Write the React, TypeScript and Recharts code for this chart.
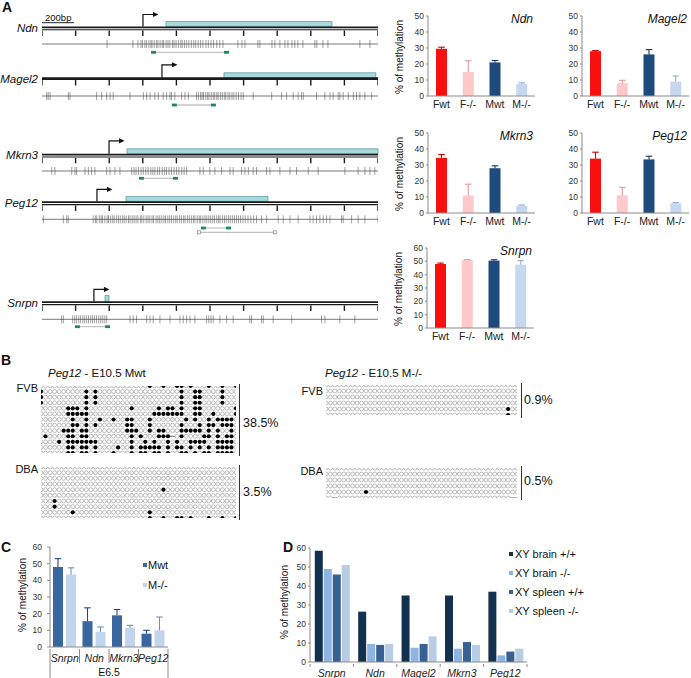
import React from "react";
import {
  BarChart,
  Bar,
  XAxis,
  YAxis,
  ScatterChart,
  Scatter,
  ReferenceLine,
  ReferenceArea,
} from "recharts";

const FONT = '"Liberation Sans", Arial, Helvetica, sans-serif';
const AXIS = "#8a8a8a";

// ---------- Panel A: bar charts ----------
const genotypes = ["Fwt", "F-/-", "Mwt", "M-/-"];
const genotypeColors = ["#fa0f0f", "#ffc9c9", "#1f4a7d", "#c5d8f0"];
const genotypeErrColors = ["#c40000", "#e79a9a", "#16365c", "#94acd0"];

const ndnMeth = [29.5, 15, 21, 7.5];
const ndnErr = [1, 7, 1.2, 0.7];
const magel2Meth = [28, 8, 26, 9];
const magel2Err = [0.4, 1.8, 3, 3.5];
const mkrn3Meth = [34.5, 11, 28, 4.5];
const mkrn3Err = [2, 7, 1.5, 0.5];
const peg12Meth = [34, 11, 33.5, 6];
const peg12Err = [4, 5, 2, 0.5];
const snrpnMeth = [48, 51, 50.5, 47.5];
const snrpnErr = [0.7, 0.3, 0.7, 3];

// ---------- Panel A: gene maps (bp) ----------
const scaleTicksBp = [0, 200, 400, 600, 800, 1000, 1200, 1400, 1600, 1800, 2000];
const ndnCpG = [387, 541, 571, 589, 598, 612, 622, 636, 648, 655, 668, 681, 690, 703, 716, 724, 739, 750, 761, 777, 786, 798, 812, 826, 835, 848, 861, 874, 889, 903, 915, 930, 944, 958, 976, 990, 1006, 1021, 1040, 1058, 1077, 1166, 1190, 1208, 1285, 1297, 1369, 1386, 1416, 1446, 1464, 1488, 1505, 1523, 1553, 1624, 1636, 1672, 1702, 1892, 1952];
const magel2CpG = [28, 37, 48, 157, 167, 325, 355, 385, 405, 424, 524, 603, 623, 643, 672, 692, 722, 742, 762, 771, 791, 831, 851, 871, 920, 931, 944, 953, 961, 975, 986, 994, 1007, 1019, 1028, 1040, 1049, 1062, 1073, 1085, 1094, 1107, 1118, 1131, 1142, 1156, 1170, 1185, 1198, 1257, 1367, 1426, 1456, 1495, 1525, 1545, 1555, 1634, 1684, 1714, 1733, 1763, 1773, 1793, 1823, 1853, 1872, 1892, 1922, 1962];
const mkrn3CpG = [58, 77, 177, 196, 206, 256, 276, 295, 315, 385, 405, 434, 464, 534, 548, 560, 575, 590, 603, 618, 632, 648, 660, 672, 688, 700, 716, 730, 741, 756, 770, 786, 800, 815, 832, 846, 861, 940, 960, 999, 1029, 1069, 1119, 1138, 1188, 1208, 1228, 1257, 1277, 1337, 1357, 1416, 1476, 1515, 1585, 1644, 1803, 1882, 1922, 1952, 1981];
const peg12CpG = [8, 127, 147, 156, 305, 318, 326, 341, 352, 360, 374, 388, 396, 409, 421, 430, 444, 455, 466, 480, 489, 501, 515, 524, 537, 548, 560, 571, 585, 594, 606, 620, 631, 642, 655, 664, 679, 690, 701, 713, 726, 735, 749, 760, 771, 784, 796, 805, 819, 830, 843, 852, 866, 877, 889, 901, 910, 924, 936, 945, 958, 970, 981, 993, 1004, 1016, 1027, 1040, 1051, 1060, 1074, 1086, 1097, 1110, 1121, 1133, 1146, 1158, 1170, 1182, 1196, 1210, 1226, 1243, 1260, 1277, 1307, 1337, 1406, 1436, 1476, 1525, 1595, 1614, 1634, 1654, 1674, 1694, 1714, 1783, 1793, 1843, 1882, 1922, 2000];
const snrpnCpG = [117, 127, 183, 195, 206, 219, 230, 243, 254, 266, 277, 290, 301, 313, 325, 338, 350, 362, 374, 385, 524, 543, 563, 623, 643, 662, 702, 762, 821, 841, 861, 881, 910, 980, 993, 1006, 1019, 1059, 1099, 1138, 1237, 1247, 1307, 1317, 1376, 1486, 1664, 1684, 1773, 1862];

const geneTracks = [
  { name: "Ndn", tss: 601, island: [738, 1726], cpg: ndnCpG, amplicon: [649, 1113] },
  { name: "Magel2", tss: 714, island: [1083, 1987], cpg: magel2CpG, amplicon: [773, 1035] },
  { name: "Mkrn3", tss: 399, island: [506, 2000], cpg: mkrn3CpG, amplicon: [577, 809] },
  { name: "Peg12", tss: 327, island: [500, 1345], cpg: peg12CpG, amplicon: [946, 1125], extra: [934, 1386] },
  { name: "Snrpn", tss: 309, island: [375, 399], cpg: snrpnCpG, amplicon: [196, 405] },
];
// vertical layout of each track (px)
const trackLayout = [
  { yMain: 27.3, double: true, arrowH: 12, boxH: 5, yCpg: 44, yAmp: 52.3, yExtra: 0 },
  { yMain: 78.6, double: false, arrowH: 13, boxH: 5, yCpg: 96, yAmp: 105, yExtra: 0 },
  { yMain: 154.6, double: true, arrowH: 13, boxH: 5, yCpg: 171, yAmp: 178.3, yExtra: 0 },
  { yMain: 202.2, double: true, arrowH: 12, boxH: 5, yCpg: 219.3, yAmp: 228, yExtra: 232.3 },
  { yMain: 302.2, double: true, arrowH: 12, boxH: 6, yCpg: 319.3, yAmp: 326.7, yExtra: 0 },
];

// ---------- Panel B: bisulfite clones (1 = methylated, 0 = unmethylated, - = missing) ----------
const mwtFvb = [
  "0000 0000 0000 0000 0000 0000 1001 0011 0100 0100 1001",
  "1000 0000 0010 1000 0000 0000 0000 0001 0011 0000 1000",
  "1000 0000 0010 1000 0000 0000 0000 0001 0011 0000 1000",
  "1000 0000 0010 1000 0000 0000 0000 0001 0011 0000 1000",
  "0000 0011 1010 0000 0000 1000 0010 1101 0011 0000 0001",
  "0000 0011 1110 0000 0000 0000 0111 1111 0011 0010 0001",
  "0000 0001 0010 0100 1001 1000 1000 0000 1010 0101 1110",
  "0000 0001 1010 1000 0001 1000 1000 0001 0001 0110 1110",
  "0000 0111 0110 0000 0001 1100 1011 0001 1111 0101 0010",
  "0100 0011 0110 0000 0000 1010 0011 1-01 0000 1101 0110",
  "0000 1011 1111 1000 0000 1001 0100 1010 0111 1001 1110",
  "0000 0011 0110 1000 0100 1011 1110 1011 0101 0101 1110",
  "0000 0011 0110 1000 1000 1011 0110 1001 1010 1101 1110",
];
const mwtDba = [
  "0000 0000 0000 0000 0000 0000 0000 0000 0000 0000 0000",
  "0000 0000 0000 0000 0000 0000 0000 0000 0000 0000 0000",
  "0000 0000 0000 0000 0000 0000 0000 0000 0000 0000 0000",
  "0000 0000 0000 0000 0000 0000 0000 0000 0000 0000 0000",
  "0000 0000 0000 0000 0000 0000 0001 0000 0000 0000 0000",
  "0000 0000 0000 0000 0000 0000 0000 0000 0000 0000 0000",
  "0001 0000 0000 0000 0000 0000 0000 0000 0000 0000 0000",
  "0001 0000 0000 0000 0000 0000 0000 0000 0000 0000 0000",
  "0000 0001 0000 0000 0000 0000 1000 0000 0000 0000 0000",
  "0000 0000 0000 0000 0000 0000 1001 0011 0100 0100 1001",
];
const koFvb = [
  "0000 0000 0000 0000 0000 0000 0000 0000 0000 0000 0000",
  "0000 0000 0000 0000 0000 0000 0000 0000 0000 0000 0000",
  "0000 0000 0000 0000 0000 0000 0000 0000 0000 0000 0000",
  "0000 0000 0000 0000 0000 0000 0000 0000 0000 0000 0000",
  "0000 0000 0000 0000 0000 0000 0000 0000 0000 0000 0100",
  "0000 0000 0000 0000 0000 0000 0000 0000 0000 0000 0100",
];
const koDba = [
  "0000 0000 0000 0000 0000 0000 0000 0000 0000 0000 0000",
  "0000 0000 0000 0000 0000 0000 0000 0000 0000 0000 0000",
  "0000 0000 0000 0000 0000 0000 0000 0000 0000 0000 0000",
  "0000 0000 0000 0000 0000 0000 0000 0000 0000 0000 0000",
  "0000 0000 0100 0000 0000 0000 0000 0000 0000 0000 0000",
  "00-0 0000 0000 0000 0000 0000 0000 0000 0000 0000 00--",
];

// ---------- Panel C ----------
const e65Genes = ["Snrpn", "Ndn", "Mkrn3", "Peg12"];
const e65Mwt = [48, 15.5, 19, 8];
const e65MwtErr = [5, 8, 3.5, 2];
const e65Mko = [43.5, 9, 11.5, 10];
const e65MkoErr = [4, 3, 1.5, 8];

// ---------- Panel D ----------
const adultGenes = ["Snrpn", "Ndn", "Magel2", "Mkrn3", "Peg12"];
const brainWt = [58.5, 26.5, 35, 35, 37];
const brainKo = [49, 9.5, 7.5, 7, 3.5];
const spleenWt = [46, 9, 9.5, 10.5, 5.5];
const spleenKo = [51, 9.5, 13.5, 9, 7];
const adultSeries = ["XY brain +/+", "XY brain -/-", "XY spleen +/+", "XY spleen -/-"];
const adultColors = ["#14304f", "#8eb4e3", "#386193", "#b8cce4"];

// ---------- helpers ----------
function T({ x, y, children, size = 10, italic = false, bold = false, anchor = "start" }: any) {
  const tx = anchor === "end" ? "-100%" : anchor === "middle" ? "-50%" : "0";
  return (
    <div
      style={{
        position: "absolute",
        left: x,
        top: y,
        transform: `translate(${tx}, -50%)`,
        fontSize: size,
        lineHeight: 1,
        fontStyle: italic ? "italic" : "normal",
        fontWeight: bold ? 700 : 400,
        whiteSpace: "nowrap",
      }}
    >
      {children}
    </div>
  );
}

function VLabel({ x, y, text }: any) {
  return (
    <div
      style={{
        position: "absolute",
        left: x,
        top: y,
        transform: "translate(-50%, -50%) rotate(-90deg)",
        fontSize: 10,
        lineHeight: 1,
        whiteSpace: "nowrap",
      }}
    >
      {text}
    </div>
  );
}

const errShape = (vKey: string, eKey: string, errColor?: string) => (props: any) => {
  const { x, y, width, height } = props;
  const d = props.payload ?? props;
  const fill = d.c ?? props.fill;
  const ec = d.ec ?? errColor ?? "#333";
  const v = d[vKey];
  const e = d[eKey];
  const ePx = v > 0 ? (height * e) / v : 0;
  const cx = x + width / 2;
  return (
    <g>
      <rect x={x} y={y} width={width} height={height} fill={fill} />
      {ePx > 0.3 && (
        <g stroke={ec} strokeWidth={1.1}>
          <line x1={cx} x2={cx} y1={y} y2={y - ePx} />
          <line x1={cx - 3.3} x2={cx + 3.3} y1={y - ePx} y2={y - ePx} />
        </g>
      )}
    </g>
  );
};

function MethylBar({ left, top, width, title, values, errors, max, yLabel }: any) {
  const data = genotypes.map((g, i) => ({
    g,
    v: values[i],
    e: errors[i],
    c: genotypeColors[i],
    ec: genotypeErrColors[i],
  }));
  const ticks = max === 60 ? [0, 10, 20, 30, 40, 50, 60] : [0, 10, 20, 30, 40, 50];
  const plotRight = left + 145;
  return (
    <>
      <div style={{ position: "absolute", left, top }}>
        <BarChart
          width={width}
          height={115}
          data={data}
          margin={{ top: 16, right: width - 145, left: 0, bottom: 5 }}
          barSize={11}
        >
          <XAxis
            dataKey="g"
            height={14}
            interval={0}
            tickLine={false}
            tickSize={2}
            tickMargin={3}
            axisLine={{ stroke: AXIS }}
            tick={{ fontSize: 10.5, fill: "#222" }}
          />
          <YAxis
            width={38}
            domain={[0, max]}
            ticks={ticks}
            interval={0}
            tickSize={2}
            tickMargin={2}
            axisLine={{ stroke: AXIS }}
            tickLine={{ stroke: AXIS }}
            tick={{ fontSize: 8.5, fill: "#333" }}
          />
          <Bar dataKey="v" shape={errShape("v", "e")} isAnimationActive={false} />
        </BarChart>
      </div>
      <T x={plotRight - 2} y={top + 19} size={12} italic anchor="end">
        {title}
      </T>
      {yLabel && <VLabel x={left + 10} y={top + 57} text="% of methylation" />}
    </>
  );
}

// gene map marks
const TickMark = (double: boolean) => (p: any) => {
  const y0 = p.cy + (double ? 3.2 : 1.4);
  return <line x1={p.cx} x2={p.cx} y1={y0} y2={y0 + 5.5} stroke="#1a1a1a" strokeWidth={1.4} />;
};
const CpGMark = (p: any) => (
  <line x1={p.cx} x2={p.cx} y1={p.cy - 4} y2={p.cy + 4} stroke="#2e2e2e" strokeOpacity={0.5} strokeWidth={0.9} />
);
const TssArrow = (p: any) => {
  const h = p.payload?.h ?? 12;
  const base = p.cy - 0.8;
  const top = base - h;
  return (
    <g>
      <path d={`M${p.cx},${base} V${top} H${p.cx + 11}`} fill="none" stroke="#111" strokeWidth={1.2} />
      <path d={`M${p.cx + 10},${top - 2.6} L${p.cx + 15.5},${top} L${p.cx + 10},${top + 2.6} Z`} fill="#111" />
    </g>
  );
};
const PrimerMark = (p: any) => {
  const side = p.payload?.side ?? 1;
  const x = side > 0 ? p.cx : p.cx - 5;
  return <rect x={x} y={p.cy - 1.4} width={5} height={2.8} fill="#1c8a55" />;
};
const OpenEnd = (p: any) => (
  <rect x={p.cx - 1.5} y={p.cy - 1.5} width={3} height={3} fill="#fff" stroke="#888" strokeWidth={0.7} />
);

function GeneMaps() {
  const items: any[] = [];
  geneTracks.forEach((g, i) => {
    const L = trackLayout[i];
    items.push(
      <ReferenceArea
        key={`box${i}`}
        x1={g.island[0]}
        x2={g.island[1]}
        y1={L.yMain - 0.8 - L.boxH}
        y2={L.yMain - 0.8}
        fill="#a9d8dc"
        fillOpacity={1}
        stroke="#5f9ea3"
        strokeWidth={0.8}
        ifOverflow="visible"
      />,
      <ReferenceLine
        key={`main${i}`}
        segment={[{ x: 0, y: L.yMain }, { x: 2000, y: L.yMain }]}
        stroke="#1a1a1a"
        strokeWidth={L.double ? 1.7 : 2.8}
        ifOverflow="visible"
      />
    );
    if (L.double) {
      items.push(
        <ReferenceLine
          key={`main2${i}`}
          segment={[{ x: 0, y: L.yMain + 2.4 }, { x: 2000, y: L.yMain + 2.4 }]}
          stroke="#1a1a1a"
          strokeWidth={1.1}
          ifOverflow="visible"
        />
      );
    }
    items.push(
      <Scatter
        key={`ticks${i}`}
        data={scaleTicksBp.map((x) => ({ x, y: L.yMain }))}
        shape={TickMark(L.double)}
        isAnimationActive={false}
      />,
      <Scatter
        key={`tss${i}`}
        data={[{ x: g.tss, y: L.yMain, h: L.arrowH }]}
        shape={TssArrow}
        isAnimationActive={false}
      />,
      <ReferenceLine
        key={`cpgl${i}`}
        segment={[{ x: 0, y: L.yCpg }, { x: 2000, y: L.yCpg }]}
        stroke="#555"
        strokeWidth={0.8}
        ifOverflow="visible"
      />,
      <Scatter
        key={`cpg${i}`}
        data={g.cpg.map((x) => ({ x, y: L.yCpg }))}
        shape={CpGMark}
        isAnimationActive={false}
      />,
      <ReferenceLine
        key={`ampl${i}`}
        segment={[{ x: g.amplicon[0], y: L.yAmp }, { x: g.amplicon[1], y: L.yAmp }]}
        stroke="#c4c4c4"
        strokeWidth={1.3}
        ifOverflow="visible"
      />,
      <Scatter
        key={`amp${i}`}
        data={[
          { x: g.amplicon[0], y: L.yAmp, side: 1 },
          { x: g.amplicon[1], y: L.yAmp, side: -1 },
        ]}
        shape={PrimerMark}
        isAnimationActive={false}
      />
    );
    if (g.extra) {
      items.push(
        <ReferenceLine
          key={`extl${i}`}
          segment={[{ x: g.extra[0], y: L.yExtra }, { x: g.extra[1], y: L.yExtra }]}
          stroke="#9a9a9a"
          strokeWidth={0.8}
          ifOverflow="visible"
        />,
        <Scatter
          key={`ext${i}`}
          data={[{ x: g.extra[0], y: L.yExtra }, { x: g.extra[1], y: L.yExtra }]}
          shape={OpenEnd}
          isAnimationActive={false}
        />
      );
    }
  });
  return (
    <>
      <div style={{ position: "absolute", left: 0, top: 0 }}>
        <ScatterChart width={390} height={340} margin={{ top: 0, right: 12, bottom: 0, left: 42 }}>
          <XAxis type="number" dataKey="x" domain={[0, 2000]} hide allowDataOverflow />
          <YAxis type="number" dataKey="y" domain={[0, 340]} reversed hide allowDataOverflow />
          <ReferenceLine
            segment={[{ x: 0, y: 22.7 }, { x: 190, y: 22.7 }]}
            stroke="#222"
            strokeWidth={1}
            ifOverflow="visible"
          />
          {items}
        </ScatterChart>
      </div>
      <T x={45} y={17.5} size={9.5}>200bp</T>
      {geneTracks.map((g, i) => (
        <T key={g.name} x={38} y={trackLayout[i].yMain + 1.5} size={11.5} italic anchor="end">
          {g.name}
        </T>
      ))}
    </>
  );
}

const CloneDot = (p: any) => {
  const s = p.payload?.s;
  if (s === "-") {
    return <line x1={p.cx - 2.4} x2={p.cx + 2.4} y1={p.cy} y2={p.cy} stroke="#444" strokeWidth={0.8} />;
  }
  if (s === "1") return <circle cx={p.cx} cy={p.cy} r={2.1} fill="#000" />;
  return <circle cx={p.cx} cy={p.cy} r={1.95} fill="#fff" stroke="#8a8a8a" strokeWidth={0.55} />;
};

function CloneBlock({ rows, x0, x1, y0, y1 }: any) {
  const clean = rows.map((r: string) => r.replace(/ /g, ""));
  const pts = clean.flatMap((r: string, ri: number) =>
    r.split("").map((s, ci) => ({ x: ci, y: ri, s }))
  );
  return (
    <div style={{ position: "absolute", left: x0 - 3, top: y0 - 3 }}>
      <ScatterChart width={x1 - x0 + 6} height={y1 - y0 + 6} margin={{ top: 3, right: 3, bottom: 3, left: 3 }}>
        <XAxis type="number" dataKey="x" domain={[0, clean[0].length - 1]} hide allowDataOverflow />
        <YAxis type="number" dataKey="y" domain={[0, clean.length - 1]} reversed hide allowDataOverflow />
        <Scatter data={pts} shape={CloneDot} isAnimationActive={false} />
      </ScatterChart>
    </div>
  );
}

function VBar({ x, y0, y1 }: any) {
  return <div style={{ position: "absolute", left: x, top: y0, width: 1, height: y1 - y0, background: "#333" }} />;
}

function E65Tick(props: any) {
  const { x, y, payload, index } = props;
  const half = payload?.offset > 0 ? payload.offset : 14.75;
  const last = index === e65Genes.length - 1;
  return (
    <g>
      <line x1={x - half} x2={x - half} y1={y} y2={y + (index === 0 ? 31 : 14)} stroke={AXIS} />
      {last && <line x1={x + half} x2={x + half} y1={y} y2={y + 31} stroke={AXIS} />}
      <text x={x} y={y + 12.5} textAnchor="middle" fontSize={10.5} fontStyle="italic" fill="#222">
        {payload.value}
      </text>
    </g>
  );
}

function AdultTick(props: any) {
  const { x, y, payload, index } = props;
  const half = payload?.offset > 0 ? payload.offset : 21.7;
  const last = index === adultGenes.length - 1;
  return (
    <g>
      <line x1={x - half} x2={x - half} y1={y} y2={y + 3} stroke={AXIS} />
      {last && <line x1={x + half} x2={x + half} y1={y} y2={y + 3} stroke={AXIS} />}
      <text x={x} y={y + 13} textAnchor="middle" fontSize={10.5} fontStyle="italic" fill="#222">
        {payload.value}
      </text>
    </g>
  );
}

function PanelC() {
  const data = e65Genes.map((g, i) => ({
    g,
    mwt: e65Mwt[i],
    mwtE: e65MwtErr[i],
    mko: e65Mko[i],
    mkoE: e65MkoErr[i],
  }));
  return (
    <>
      <div style={{ position: "absolute", left: 0, top: 530 }}>
        <BarChart width={175} height={148} data={data} margin={{ top: 17, right: 7, bottom: 0, left: 0 }} barSize={10} barGap={3}>
          <XAxis
            dataKey="g"
            height={31}
            interval={0}
            tickSize={0}
            tickLine={false}
            axisLine={{ stroke: AXIS }}
            tick={(p: any) => <E65Tick {...p} />}
          />
          <YAxis
            width={50}
            domain={[0, 60]}
            ticks={[0, 10, 20, 30, 40, 50, 60]}
            interval={0}
            tickSize={3}
            tickMargin={5}
            axisLine={{ stroke: AXIS }}
            tickLine={{ stroke: AXIS }}
            tick={{ fontSize: 8.5, fill: "#333" }}
          />
          <Bar dataKey="mwt" fill="#3a66a0" shape={errShape("mwt", "mwtE", "#24487a")} isAnimationActive={false} />
          <Bar dataKey="mko" fill="#c2d5ee" shape={errShape("mko", "mkoE", "#6d8fbd")} isAnimationActive={false} />
        </BarChart>
      </div>
      <VLabel x={23} y={595} text="% of methylation" />
      <T x={109} y={672} size={10.5} anchor="middle">E6.5</T>
      <div style={{ position: "absolute", left: 143, top: 563, width: 4, height: 4, background: "#3a66a0" }} />
      <T x={148} y={565} size={11}>Mwt</T>
      <div style={{ position: "absolute", left: 143, top: 583, width: 4, height: 4, background: "#c2d5ee" }} />
      <T x={148} y={585} size={11}>M-/-</T>
    </>
  );
}

function PanelD() {
  const data = adultGenes.map((g, i) => ({
    g,
    bw: brainWt[i],
    bk: brainKo[i],
    sw: spleenWt[i],
    sk: spleenKo[i],
  }));
  const keys = ["bw", "bk", "sw", "sk"];
  const legendY = [554, 573, 592, 611];
  return (
    <>
      <div style={{ position: "absolute", left: 270, top: 530 }}>
        <BarChart width={260} height={148} data={data} margin={{ top: 18, right: 3, bottom: 0, left: 0 }} barCategoryGap="11%" barGap={1}>
          <XAxis
            dataKey="g"
            height={16}
            interval={0}
            tickSize={0}
            tickLine={false}
            axisLine={{ stroke: AXIS }}
            tick={(p: any) => <AdultTick {...p} />}
          />
          <YAxis
            width={40}
            domain={[0, 60]}
            ticks={[0, 10, 20, 30, 40, 50, 60]}
            interval={0}
            tickSize={2}
            tickMargin={2}
            axisLine={{ stroke: AXIS }}
            tickLine={{ stroke: AXIS }}
            tick={{ fontSize: 8.5, fill: "#333" }}
          />
          {keys.map((k, i) => (
            <Bar key={k} dataKey={k} fill={adultColors[i]} isAnimationActive={false} />
          ))}
        </BarChart>
      </div>
      <VLabel x={285} y={602} text="% of methylation" />
      {adultSeries.map((s, i) => (
        <React.Fragment key={s}>
          <div style={{ position: "absolute", left: 509, top: legendY[i] - 2, width: 4, height: 4, background: adultColors[i] }} />
          <T x={515} y={legendY[i]} size={11}>{s}</T>
        </React.Fragment>
      ))}
    </>
  );
}

export default function App() {
  return (
    <div
      style={{
        position: "absolute",
        left: 0,
        top: 0,
        width: 691,
        height: 678,
        background: "#fff",
        fontFamily: FONT,
        color: "#111",
        overflow: "hidden",
      }}
    >
      <T x={2} y={7} size={14} bold>A</T>
      <GeneMaps />
      <MethylBar left={390} top={0} width={150} title="Ndn" values={ndnMeth} errors={ndnErr} max={50} yLabel />
      <MethylBar left={544} top={0} width={147} title="Magel2" values={magel2Meth} errors={magel2Err} max={50} />
      <MethylBar left={390} top={117} width={150} title="Mkrn3" values={mkrn3Meth} errors={mkrn3Err} max={50} yLabel />
      <MethylBar left={544} top={117} width={147} title="Peg12" values={peg12Meth} errors={peg12Err} max={50} />
      <MethylBar left={389} top={232} width={150} title="Snrpn" values={snrpnMeth} errors={snrpnErr} max={60} yLabel />

      {/* Panel B */}
      <T x={1} y={360} size={14} bold>B</T>
      <T x={48} y={374} size={11.5}>
        <i>Peg12</i> - E10.5 Mwt
      </T>
      <T x={325} y={374} size={11.5}>
        <i>Peg12</i> - E10.5 M-/-
      </T>
      <T x={38} y={388} size={11} anchor="end">FVB</T>
      <T x={38} y={469} size={11} anchor="end">DBA</T>
      <T x={323} y={391} size={11} anchor="end">FVB</T>
      <T x={323} y={471} size={11} anchor="end">DBA</T>
      <CloneBlock rows={mwtFvb} x0={41} x1={236} y0={386} y1={453} />
      <CloneBlock rows={mwtDba} x0={41} x1={236} y0={467} y1={518} />
      <CloneBlock rows={koFvb} x0={326} x1={517} y0={385} y1={415} />
      <CloneBlock rows={koDba} x0={326} x1={517} y0={468} y1={498} />
      <VBar x={239} y0={384} y1={456} />
      <VBar x={239} y0={465} y1={520} />
      <VBar x={521} y0={383} y1={418} />
      <VBar x={521} y0={466} y1={500} />
      <T x={243} y={423} size={12.5}>38.5%</T>
      <T x={243} y={492} size={12.5}>3.5%</T>
      <T x={524} y={400} size={12.5}>0.9%</T>
      <T x={524} y={481} size={12.5}>0.5%</T>

      {/* Panel C */}
      <T x={1} y={547} size={14} bold>C</T>
      <PanelC />

      {/* Panel D */}
      <T x={283} y={547} size={14} bold>D</T>
      <PanelD />
    </div>
  );
}
